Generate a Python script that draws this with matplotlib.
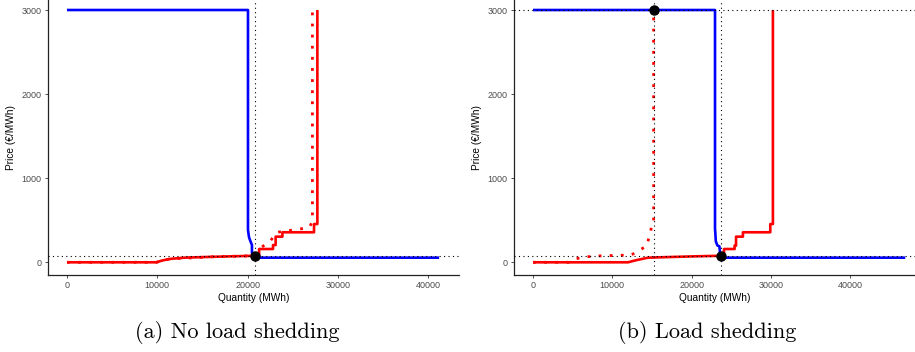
import matplotlib
matplotlib.use("Agg")
import matplotlib.pyplot as plt

plt.rcParams['font.family'] = ['Liberation Sans', 'DejaVu Sans']

# --------------------
# Data
# --------------------
# (a) no load shedding
dem_q_a = [0, 20040, 20040, 20150, 20260, 20480, 20480, 20700, 20900, 41200]
dem_p_a = [3000, 3000, 385, 300, 265, 205, 110, 90, 55, 55]

sup_q_a = [0, 9900, 10500, 11370, 13000, 16000, 20800, 21270, 21270, 22810, 22810,
           23100, 23100, 23850, 23850, 27350, 27350, 27720, 27720]
sup_p_a = [0, 0, 20, 40, 55, 65, 78, 78, 158, 158, 205,
           205, 305, 305, 357, 357, 455, 455, 3000]

sup2_q_a = [0, 9900, 11370, 16000, 20800, 21270, 22520, 23270, 26800, 27170, 27170]
sup2_p_a = [0, 0, 40, 65, 78, 158, 255, 357, 412, 482, 3000]

eq_q_a = [20830]
eq_p_a = [78]

# (b) load shedding
dem_q_b = [0, 22950, 22950, 23050, 23250, 23500, 23600, 23800, 24000, 46940]
dem_p_b = [3000, 3000, 404, 250, 200, 190, 100, 70, 55, 55]

sup_q_b = [0, 11980, 13000, 14500, 17000, 20000, 23750, 24080, 24080, 25420, 25420,
           25600, 25600, 26470, 26470, 29920, 29920, 30250, 30250]
sup_p_b = [0, 0, 25, 55, 62, 70, 78, 78, 158, 158, 198,
           198, 305, 305, 357, 357, 455, 455, 3000]

sup2_q_b = [0, 4500, 5250, 6100, 7000, 8000, 12400, 13100, 14400, 14600, 14850,
            14950, 15210, 15210]
sup2_p_b = [0, 0, 36, 59, 67, 75, 87, 127, 198, 297, 365,
            455, 480, 3000]

eq_q_b = [15210, 23750]
eq_p_b = [3000, 78]

captions = ["(a) No load shedding", "(b) Load shedding"]
xticks = [0, 10000, 20000, 30000, 40000]
yticks = [0, 1000, 2000, 3000]

# --------------------
# Plot
# --------------------
fig = plt.figure(figsize=(9.15, 3.52), dpi=100)
ax_a = fig.add_axes([48 / 915, 77 / 352, 411 / 915, 275 / 352])
ax_b = fig.add_axes([514 / 915, 77 / 352, 401 / 915, 275 / 352])

BLUE = "#0000FF"
RED = "#FF0000"


def draw(ax, dq, dp, sq, sp, s2q, s2p, eq, ep, xlim):
    ax.plot(dq, dp, color=BLUE, lw=1.9, zorder=2, solid_capstyle="butt")
    ax.plot(sq, sp, color=RED, lw=1.9, zorder=2, solid_capstyle="butt")
    ax.plot(s2q, s2p, color=RED, lw=2.0, linestyle=(0, (1, 3)), zorder=2)
    for q, p in zip(eq, ep):
        ax.axvline(q, color="black", lw=0.8, linestyle=(0, (1, 3)), zorder=3)
        ax.axhline(p, color="black", lw=0.8, linestyle=(0, (1, 3)), zorder=3)
    ax.plot(eq, ep, "o", color="black", ms=6.5, zorder=4)

    ax.set_xlim(*xlim)
    ax.set_ylim(-151, 3119)
    ax.set_xticks(xticks)
    ax.set_yticks(yticks)
    ax.set_xticklabels([str(t) for t in xticks])
    ax.set_yticklabels([str(t) for t in yticks])
    ax.tick_params(labelsize=6.5, labelcolor="#4D4D4D", color="#333333",
                   length=2.5, width=0.6, pad=2)
    for s in ["top", "right"]:
        ax.spines[s].set_visible(False)
    for s in ["left", "bottom"]:
        ax.spines[s].set_linewidth(0.9)
        ax.spines[s].set_color("#222222")
    ax.set_xlabel("Quantity (MWh)", fontsize=7.3, labelpad=2)
    ax.set_ylabel("Price (€/MWh)", fontsize=7.3, labelpad=4)


draw(ax_a, dem_q_a, dem_p_a, sup_q_a, sup_p_a, sup2_q_a, sup2_p_a,
     eq_q_a, eq_p_a, (-2100, 43400))
draw(ax_b, dem_q_b, dem_p_b, sup_q_b, sup_p_b, sup2_q_b, sup2_p_b,
     eq_q_b, eq_p_b, (-2400, 48170))

fig.text(237 / 915, 1 - 333 / 352, captions[0], ha="center", va="center",
         fontsize=16, family="cmr10")
fig.text(707 / 915, 1 - 333 / 352, captions[1], ha="center", va="center",
         fontsize=16, family="cmr10")

plt.savefig("out.png", dpi=100)
